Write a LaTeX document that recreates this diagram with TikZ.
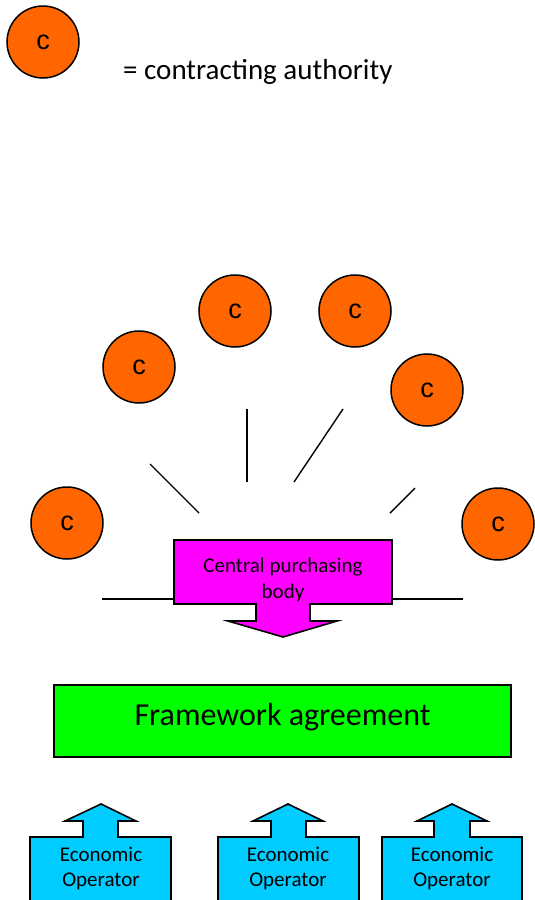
\documentclass[tikz,border=0pt]{standalone}
\usepackage{fontspec}
\setmainfont{Carlito}
\newfontfamily\arialf{Liberation Sans}
\definecolor{caorange}{HTML}{FF6600}
\definecolor{cpbmag}{HTML}{FF00FF}
\definecolor{fwgreen}{HTML}{00FF00}
\definecolor{eocyan}{HTML}{00CCFF}
\begin{document}
\begin{tikzpicture}[x=1pt,y=-1pt,
  ca/.style={circle,draw=black,line width=1.5pt,fill=caorange,minimum size=72pt,inner sep=0pt,font=\arialf\fontsize{27}{30}\selectfont},
  shapeline/.style={draw=black,line width=1.6pt},
  ray/.style={draw=black,line width=1.4pt},
  lbl/.style={align=center,inner sep=0pt}]
\useasboundingbox (0,0) rectangle (535,900);
% legend
\node[ca] (leg) at (43,42) {c};
\node[anchor=base west,inner sep=0pt,font=\fontsize{29}{32}\selectfont] (legtxt) at (123,79) {= contracting authority};
% authorities
\node[ca] (c1) at (139,367) {c};
\node[ca] (c2) at (235,311) {c};
\node[ca] (c3) at (355,311) {c};
\node[ca] (c4) at (427,390) {c};
\node[ca] (c5) at (67,523) {c};
\node[ca] (c6) at (498,524) {c};
% rays
\coordinate (r1a) at (150,464); \coordinate (r1b) at (199,513);
\coordinate (r2a) at (247,409); \coordinate (r2b) at (247,482);
\coordinate (r3a) at (343,409); \coordinate (r3b) at (294,482);
\coordinate (r4a) at (415,488); \coordinate (r4b) at (390,513);
\coordinate (h1a) at (102,599); \coordinate (h1b) at (175,599);
\coordinate (h2a) at (391,599); \coordinate (h2b) at (463,599);
\draw[ray] (r1a) -- (r1b);
\draw[ray] (r2a) -- (r2b);
\draw[ray] (r3a) -- (r3b);
\draw[ray] (r4a) -- (r4b);
\draw[ray] (h1a) -- (h1b);
\draw[ray] (h2a) -- (h2b);
% central purchasing body
\filldraw[shapeline,fill=cpbmag,line join=miter] (174,540) -- (392,540) -- (392,604) -- (310,604) -- (310,621) -- (337,621) -- (283,637) -- (228,621) -- (256,621) -- (256,604) -- (174,604) -- cycle;
\node[lbl,font=\fontsize{21}{26}\selectfont] (cpb) at (283,580) {Central purchasing\\body};
% framework agreement
\node[draw=black,line width=1.6pt,fill=fwgreen,minimum width=457pt,minimum height=72pt,inner sep=0pt] (fa) at (282.5,721) {};
\node[inner sep=0pt,font=\fontsize{32}{36}\selectfont] (fatxt) at (282.5,717) {Framework agreement};
% economic operators
\foreach \n/\l/\r/\sl/\sr/\hl/\hr/\t in {1/30/171/83/118/65/136/101, 2/218/359/271/306/253/323/288, 3/382/522/434/470/417/487/452}{
  \filldraw[shapeline,fill=eocyan,line join=miter] (\l,903) -- (\l,837) -- (\sl,837) -- (\sl,821) -- (\hl,821) -- (\t,804) -- (\hr,821) -- (\sr,821) -- (\sr,837) -- (\r,837) -- (\r,903) -- cycle;
}
\node[lbl,font=\fontsize{21}{25}\selectfont] (eo1) at (101,868) {Economic\\Operator};
\node[lbl,font=\fontsize{21}{25}\selectfont] (eo2) at (288,868) {Economic\\Operator};
\node[lbl,font=\fontsize{21}{25}\selectfont] (eo3) at (452,868) {Economic\\Operator};
\end{tikzpicture}
\end{document}
